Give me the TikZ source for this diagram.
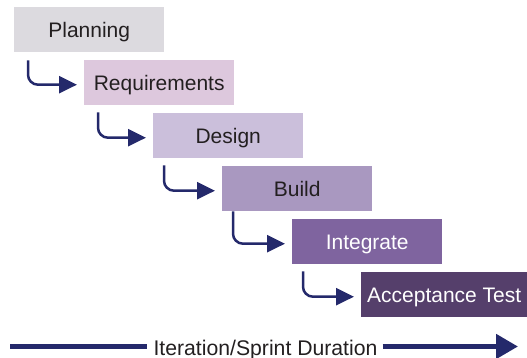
\documentclass[tikz,border=0pt]{standalone}
\usepackage{fontspec}
\setmainfont{Liberation Sans}
\usetikzlibrary{arrows.meta}
\definecolor{navy}{HTML}{24296B}
\definecolor{txt}{HTML}{231F20}
\definecolor{cA}{HTML}{DCDADF}
\definecolor{cB}{HTML}{DDC8DD}
\definecolor{cC}{HTML}{CBBFDB}
\definecolor{cD}{HTML}{A998C0}
\definecolor{cE}{HTML}{7F649F}
\definecolor{cF}{HTML}{553F6B}
\begin{document}
\begin{tikzpicture}[x=1pt,y=-1pt,
  stage/.style={anchor=north west, minimum width=150pt, minimum height=45pt, inner sep=0pt,
    text height=15pt, text depth=0pt, text=txt, font=\fontsize{21}{24}\selectfont},
  flow/.style={draw=navy, line width=2.5pt, rounded corners=10pt, shorten >=7pt,
    -{Triangle[length=18pt,width=17pt]}},
  dur/.style={draw=navy, line width=5pt}]
\useasboundingbox (0,0) rectangle (527,358);
\node[stage, fill=cA] (plan) at (14,7) {Planning};
\node[stage, fill=cB] (req) at (84,60) {Requirements};
\node[stage, fill=cC] (des) at (153,113) {Design};
\node[stage, fill=cD] (bld) at (222,166) {Build};
\node[stage, fill=cE, text=white] (int) at (292,219) {Integrate};
\node[stage, fill=cF, text=white, minimum width=166pt] (acc) at (361,272) {Acceptance Test};
\draw[flow] ([xshift=14pt,yshift=-8pt]plan.south west) |- ([yshift=-2pt]req.west);
\draw[flow] ([xshift=14pt,yshift=-7pt]req.south west) |- ([yshift=-2pt]des.west);
\draw[flow] ([xshift=11pt,yshift=-7pt]des.south west) |- ([yshift=-2pt]bld.west);
\draw[flow] ([xshift=11pt,yshift=0pt]bld.south west) |- ([yshift=-2pt]int.west);
\draw[flow] ([xshift=11pt,yshift=-7pt]int.south west) |- ([yshift=-2pt]acc.west);
\node[anchor=base, inner sep=0pt, text=txt, font=\fontsize{21.2}{24}\selectfont] (lab) at (265.5,355) {Iteration/Sprint Duration};
\coordinate (L) at (10,346.5);
\coordinate (R) at (518,346.5);
\draw[dur] (L) -- ([xshift=-6pt]L -| lab.west);
\draw[dur, -{Triangle[length=22pt,width=24pt]}] ([xshift=5pt]L -| lab.east) -- (R);
\end{tikzpicture}
\end{document}
